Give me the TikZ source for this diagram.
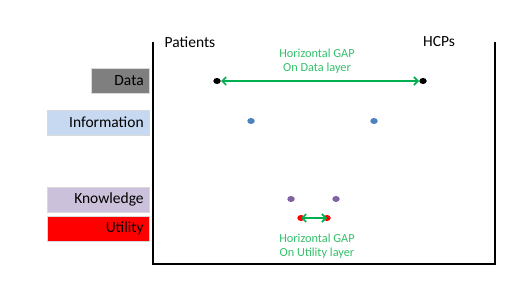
\documentclass[tikz,border=0pt]{standalone}
\usepackage{fontspec}
\setmainfont{Carlito}
\usetikzlibrary{arrows.meta}
\definecolor{gapgreen}{HTML}{00B050}
\definecolor{gaptext}{HTML}{33C06A}
\definecolor{dotblue}{HTML}{4F81BD}
\definecolor{dotpurple}{HTML}{8064A2}
\definecolor{infoblue}{HTML}{C6D9F1}
\definecolor{knowpurple}{HTML}{CCC1DA}
\definecolor{datagray}{HTML}{7F7F7F}
\begin{document}
\begin{tikzpicture}[x=1pt,y=-1pt,
  layer/.style={draw=white!85!black, line width=0.6pt, minimum height=25pt, inner xsep=6pt, anchor=east, align=right, font=\fontsize{15.5}{17}\selectfont, text width=#1},
  dot/.style={circle, fill=#1, minimum width=6pt, minimum height=5pt, inner sep=0pt, xscale=1.25},
  gaparrow/.style={draw=gapgreen, line width=1.6pt, {Straight Barb[length=4pt,width=8pt]}-{Straight Barb[length=4pt,width=8pt]}},
  gaplabel/.style={text=gaptext, align=center, font=\fontsize{12.3}{13.5}\selectfont},
  head/.style={font=\fontsize{15.5}{17}\selectfont}]
\useasboundingbox (0,0) rectangle (520,286);
% frame
\coordinate (tl) at (153,42);
\coordinate (bl) at (153,264);
\coordinate (br) at (495,264);
\coordinate (tr) at (495,42);
\draw[line width=1.3pt] (tl) -- (bl) -- (br) -- (tr);
% layer boxes
\node[layer=46pt, fill=datagray] (data) at (150,80.5) {Data};
\node[layer=90pt, fill=infoblue] (info) at (150,122.5) {Information};
\node[layer=90pt, fill=knowpurple] (know) at (150,199.5) {Knowledge};
\node[layer=90pt, fill=red] (util) at (150,228.5) {Utility};
% headers
\node[head] (pat) at (190,42) {Patients};
\node[head] (hcp) at (439,42) {HCPs};
% data layer
\node[dot=black] (d1) at (217,81) {};
\node[dot=black] (d2) at (423,81) {};
\draw[gaparrow] (d1.east) -- (d2.west);
\node[gaplabel] (gl1) at (317,61) {Horizontal GAP\\On Data layer};
% information
\node[dot=dotblue] (i1) at (251,121) {};
\node[dot=dotblue] (i2) at (374,121) {};
% knowledge
\node[dot=dotpurple] (k1) at (291,199) {};
\node[dot=dotpurple] (k2) at (336,199) {};
% utility
\node[dot=red] (u1) at (301,218) {};
\node[dot=red] (u2) at (327,218) {};
\draw[gaparrow] (u1.center) -- (u2.center);
\node[gaplabel] (gl2) at (317,246) {Horizontal GAP\\On Utility layer};
\end{tikzpicture}
\end{document}
